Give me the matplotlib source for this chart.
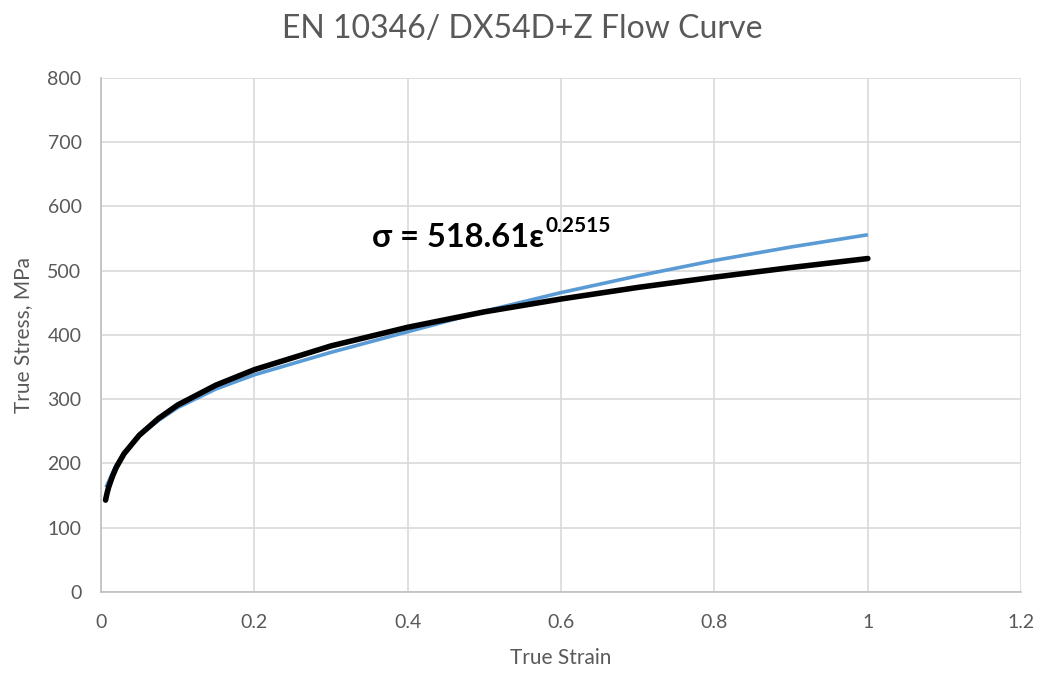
import matplotlib
matplotlib.use("Agg")
import matplotlib.pyplot as plt
from matplotlib.transforms import offset_copy

strain_data = [0.0065, 0.01, 0.02, 0.03, 0.05, 0.075, 0.1, 0.15, 0.2, 0.3,
               0.4, 0.5, 0.6, 0.7, 0.8, 0.9, 1.0]
stress_data = [163, 172, 198, 216, 243, 267, 287, 316, 338, 373,
               405, 437, 466, 492, 516, 537, 556]

# power-law fit line
strain_fit = [0.006, 0.008, 0.01, 0.015, 0.02, 0.03, 0.05, 0.075, 0.1, 0.15,
              0.2, 0.3, 0.4, 0.5, 0.6, 0.7, 0.8, 0.9, 1.0]
stress_fit = [143, 154, 163, 180, 194, 215, 244, 270, 291, 322,
              346, 383, 412, 436, 456, 474, 490, 505, 519]

x_ticks = [0, 0.2, 0.4, 0.6, 0.8, 1, 1.2]
x_tick_labels = ["0", "0.2", "0.4", "0.6", "0.8", "1", "1.2"]
y_ticks = [0, 100, 200, 300, 400, 500, 600, 700, 800]

title = "EN 10346/ DX54D+Z Flow Curve"
eq_main = "\u03c3 = 518.61\u03b5"
eq_exp = "0.2515"

fonts = ["Lato", "DejaVu Sans"]
plt.rcParams["font.family"] = fonts
grey = "#595959"

fig = plt.figure(figsize=(10.44, 6.77), dpi=100)
ax = fig.add_axes([0.0967, 0.1256, 0.8815, 0.7592])

ax.plot(strain_data, stress_data, color="#5b9bd5", linewidth=2.6,
        solid_capstyle="butt", zorder=3)
ax.plot(strain_fit, stress_fit, color="black", linewidth=4.0,
        solid_capstyle="round", zorder=4)

ax.set_xlim(0, 1.2)
ax.set_ylim(0, 800)
ax.set_xticks(x_ticks)
ax.set_xticklabels(x_tick_labels)
ax.set_yticks(y_ticks)
ax.grid(True, color="#d9d9d9", linewidth=1.2)
ax.set_axisbelow(True)
for side in ["top", "right"]:
    ax.spines[side].set_visible(False)
for side in ["left", "bottom"]:
    ax.spines[side].set_color("#bfbfbf")
    ax.spines[side].set_linewidth(1.2)
ax.tick_params(axis="x", length=0, colors=grey, labelsize=14, pad=16)
ax.tick_params(axis="y", length=0, colors=grey, labelsize=14, pad=14)

ax.set_xlabel("True Strain", fontsize=15, color=grey, labelpad=12)
ax.set_ylabel("True Stress, MPa", fontsize=15, color=grey, labelpad=10)
fig.text(0.5, 0.98, title, ha="center", va="top", fontsize=23, color=grey)

# equation of the trendline, exponent raised by hand
t1 = ax.text(0.353, 537, eq_main, fontsize=23.5, fontweight="bold",
             color="black", ha="left", va="baseline")
fig.canvas.draw()
bb = t1.get_window_extent(fig.canvas.get_renderer())
x_end = ax.transData.inverted().transform((bb.x1, 0))[0]
ax.text(x_end, 537, eq_exp,
        transform=offset_copy(ax.transData, fig=fig, x=1, y=11, units="points"),
        fontsize=15, fontweight="bold", color="black",
        ha="left", va="baseline")

fig.savefig("out.png", dpi=100)
